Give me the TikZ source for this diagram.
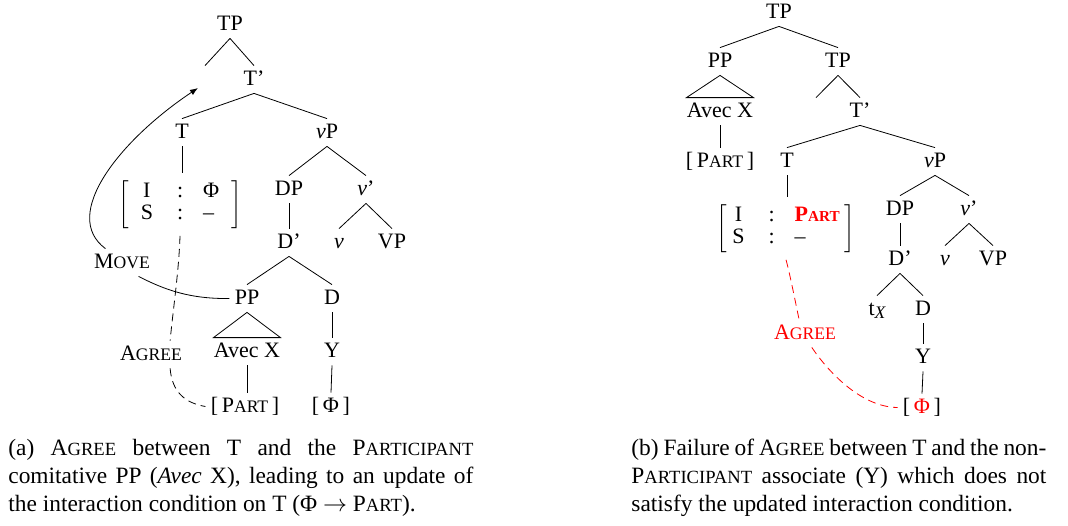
\documentclass[tikz,border=0pt]{standalone}
\usepackage{fontspec}
\setmainfont{Liberation Serif}
\usetikzlibrary{arrows.meta}
\tikzstyle{cat}=[anchor=base,inner sep=2.5pt,text height=7pt,text depth=1.5pt]
\tikzstyle{avm}=[anchor=north,inner sep=3.5pt]
\tikzstyle{agreeline}=[dash pattern=on 4pt off 2.5pt]
\newcommand{\smc}[2][8.8]{{\fontsize{#1}{10}\selectfont #2}}
\newcommand{\avmbox}[3][6pt]{$\left[\renewcommand{\arraystretch}{0.81}%
\begin{tabular}{@{\hspace{#1}}c@{\hspace{12pt}}c@{\hspace{10pt}}l@{\hspace{#1}}}
I & : & #2\\ S & : & #3
\end{tabular}\right]$}

\begin{document}
\begin{tikzpicture}[x=0.5pt,y=-0.5pt,font=\fontsize{11}{13.6}\selectfont]
\useasboundingbox (0,0) rectangle (1068,525);

% (a) tree
\node[cat] (tpA) at (230,30) {TP};
\node[cat] (specA) at (205,85) {};
\node[cat] (tbarA) at (254,85) {T’};
\node[cat] (tA) at (182,138) {T};
\node[cat] (vpA) at (327,138) {\textit{v}P};
\node[avm] (avmA) at (180,173) {\avmbox{Φ}{–}};
\node[cat] (dpA) at (289,195) {DP};
\node[cat] (vbarA) at (366,195) {\textit{v}’};
\node[cat] (dbarA) at (289,248) {D’};
\node[cat] (vA) at (339,248) {\textit{v}};
\node[cat] (vpsmA) at (392,248) {VP};
\node[cat] (ppA) at (247,304) {PP};
\node[cat] (dA) at (332,304) {D};
\node[cat,inner xsep=0pt] (avecA) at (247,357) {Avec X};
\node[cat] (yA) at (332,357) {Y};
\node[cat] (partA) at (245,412) {[\,P\smc{ART}\,]};
\node[cat] (phiA) at (331,412) {[\,Φ\,]};
\node[cat] (moveA) at (122,268) {M\smc{OVE}};
\node[cat] (agreeA) at (151,360) {A\smc{GREE}};
\coordinate (landA) at (198,88);

\foreach \p/\c in {tpA/specA,tpA/tbarA,tbarA/tA,tbarA/vpA,vpA/dpA,vpA/vbarA,
  vbarA/vA,vbarA/vpsmA,dbarA/ppA,dbarA/dA}
  \draw (\p.south) -- (\c.north);
\draw (tA.south) -- (tA.south |- avmA.north);
\draw (dpA.south) -- (dbarA.north);
\draw (dA.south) -- (yA.north);
\draw (yA.south) -- (phiA.north);
\draw (avecA.south) -- (avecA.south |- partA.north);
\draw (ppA.south) -- (avecA.north west) -- (avecA.north east) -- cycle;

% movement and agree
\draw (ppA.west) .. controls (190,299) and (165,290) .. (moveA.-40);
\draw[-{Latex[length=4pt,width=3pt]}] (moveA.140) .. controls (60,215) and (120,140) .. (landA);
\draw[agreeline] (avmA.south) .. controls (179,270) and (173,310) .. (agreeA.36);
\draw[agreeline] (agreeA.-36) .. controls (172,392) and (185,403) .. (partA.west);

% (b) tree
\node[cat] (tpB) at (779,18) {TP};
\node[cat] (ppB) at (720,67) {PP};
\node[cat] (tpmidB) at (838,67) {TP};
\node[cat,inner xsep=0pt] (avecB) at (720,117) {Avec X};
\node[cat] (partB) at (720,167) {[\,P\smc{ART}\,]};
\node[cat] (specB) at (816,117) {};
\node[cat] (tbarB) at (860,117) {T’};
\node[cat] (tB) at (787,167) {T};
\node[cat] (vpB) at (935,167) {\textit{v}P};
\node[avm] (avmB) at (786,197) {\avmbox[2.5pt]{\textcolor{red}{\textbf{P\smc[7.6]{ART}}}}{–}};
\node[cat] (dpB) at (900,215) {DP};
\node[cat] (vbarB) at (969,215) {\textit{v}’};
\node[cat] (dbarB) at (900,265) {D’};
\node[cat] (vB) at (945,265) {\textit{v}};
\node[cat] (vpsmB) at (993,265) {VP};
\node[cat] (traceB) at (877,315) {t\raisebox{-1.5pt}{\fontsize{8.8}{10}\selectfont\itshape X}};
\node[cat] (dB) at (923,315) {D};
\node[cat] (yB) at (923,363) {Y};
\node[cat] (phiB) at (922,413) {[\,\textcolor{red}{Φ}\,]};
\node[cat,red] (agreeB) at (805,339) {A\smc{GREE}};

\foreach \p/\c in {tpB/ppB,tpB/tpmidB,tpmidB/specB,tpmidB/tbarB,tbarB/tB,tbarB/vpB,
  vpB/dpB,vpB/vbarB,vbarB/vB,vbarB/vpsmB,dbarB/traceB,dbarB/dB}
  \draw (\p.south) -- (\c.north);
\draw (tB.south) -- (tB.south |- avmB.north);
\draw (avecB.south) -- (partB.north);
\draw (dpB.south) -- (dbarB.north);
\draw (dB.south) -- (yB.north);
\draw (yB.south) -- (phiB.north);
\draw (ppB.south) -- (avecB.north west) -- (avecB.north east) -- cycle;

\draw[agreeline,red] (avmB.south) .. controls (789,270) and (795,300) .. (agreeB.113);
\draw[agreeline,red] (agreeB.-64) .. controls (827,370) and (860,407) .. (phiB.west);

% captions
\node[anchor=base west,inner sep=0pt] (capA) at (8,455) {\parbox[t]{232.5pt}{\fontsize{11.7}{14}\selectfont
(a) A\smc[9.3]{GREE} between T and the P\smc[9.3]{ARTICIPANT}\linebreak
comitative PP (\textit{Avec} X), leading to an update of\linebreak
the interaction condition on T (Φ $\rightarrow$ P\smc[9.3]{ART}).}};
\node[anchor=base west,inner sep=0pt] (capB) at (631,455) {\parbox[t]{207.5pt}{\fontsize{11.7}{14}\selectfont
(b) Failure of A\smc[9.3]{GREE} between T and the non-\linebreak
P\smc[9.3]{ARTICIPANT} associate (Y) which does not\linebreak
satisfy the updated interaction condition.}};
\end{tikzpicture}
\end{document}
